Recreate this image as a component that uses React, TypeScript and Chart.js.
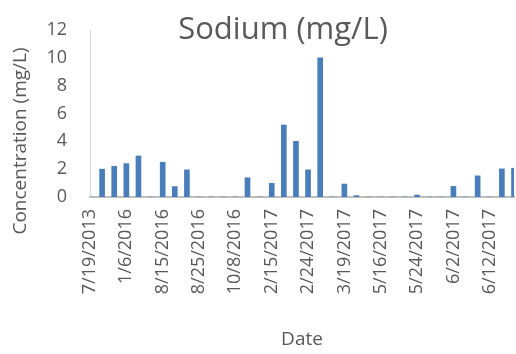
import React, { useEffect, useRef } from "react";
import { Chart, registerables } from "chart.js";

Chart.register(...registerables);

// Category labels (only every third date is printed on the axis in the source chart)
const dates: string[] = [
  "7/19/2013", "", "", "1/6/2016", "", "", "8/15/2016", "", "", "8/25/2016", "", "",
  "10/8/2016", "", "", "2/15/2017", "", "", "2/24/2017", "", "", "3/19/2017", "", "",
  "5/16/2017", "", "", "5/24/2017", "", "", "6/2/2017", "", "", "6/12/2017", "", "",
];

// Sodium concentration (mg/L)
const sodium: number[] = [
  0, 2.0, 2.2, 2.4, 2.95, 0, 2.5, 0.75, 1.95, 0, 0, 0,
  0, 1.38, 0, 0.98, 5.17, 4.0, 1.95, 10.0, 0, 0.93, 0.1, 0,
  0, 0, 0, 0.14, 0, 0, 0.76, 0, 1.52, 0, 2.02, 2.07,
];

const yTicks: number[] = [0, 2, 4, 6, 8, 10, 12];

const chartTitle = "Sodium (mg/L)";
const yTitle = "Concentration (mg/L)";
const xTitle = "Date";

const FONT = "'Open Sans', 'Liberation Sans', sans-serif";
const TEXT = "#595959";

const titlesPlugin = {
  id: "customTitles",
  afterDraw(chart: any) {
    const ctx = chart.ctx;
    ctx.save();
    ctx.fillStyle = TEXT;
    ctx.font = `31px ${FONT}`;
    ctx.textAlign = "center";
    ctx.textBaseline = "alphabetic";
    ctx.fillText(chartTitle, 283, 39);
    ctx.translate(21, 141);
    ctx.rotate(-Math.PI / 2);
    ctx.font = `19px ${FONT}`;
    ctx.textBaseline = "middle";
    ctx.fillText(yTitle, 0, 0);
    ctx.restore();
  },
};

export default function App() {
  const ref = useRef<HTMLCanvasElement | null>(null);

  useEffect(() => {
    document.body.style.margin = "0";
    if (!ref.current) return;
    const chart = new Chart(ref.current, {
      type: "bar",
      data: {
        labels: dates,
        datasets: [
          {
            label: chartTitle,
            data: sodium,
            backgroundColor: "#4A7EBB",
            barThickness: 5,
          },
        ],
      },
      options: {
        animation: false,
        responsive: false,
        maintainAspectRatio: false,
        layout: { padding: { top: 30, right: 0, left: 0, bottom: 0 } },
        plugins: {
          legend: { display: false },
          tooltip: { enabled: false },
          title: { display: false },
        },
        scales: {
          x: {
            offset: false,
            grid: { display: false, drawTicks: false },
            border: { display: true, color: "#BFBFBF", width: 2 },
            ticks: {
              autoSkip: false,
              minRotation: 90,
              maxRotation: 90,
              padding: 12,
              color: TEXT,
              font: { family: FONT, size: 18 },
            },
            title: {
              display: true,
              text: xTitle,
              color: TEXT,
              font: { family: FONT, size: 19 },
              padding: { top: 0, bottom: 3 },
            },
            afterFit(scale: any) {
              scale.height = 157;
              scale.paddingRight = 2;
              scale.paddingLeft = 0;
              scale.paddingTop = 0;
              scale.paddingBottom = 0;
            },
          },
          y: {
            min: 0,
            max: 12,
            afterBuildTicks(scale: any) {
              scale.ticks = yTicks.map((v) => ({ value: v }));
            },
            grid: { display: false, drawTicks: false },
            border: { display: true, color: "#D9D9D9", width: 1 },
            ticks: {
              padding: 23,
              color: TEXT,
              font: { family: FONT, size: 18 },
            },
            afterFit(scale: any) {
              scale.width = 90;
              scale.paddingTop = 0;
              scale.paddingBottom = 0;
            },
          },
        },
      },
      plugins: [titlesPlugin],
    });
    return () => chart.destroy();
  }, []);

  return <canvas ref={ref} width={516} height={354} style={{ display: "block" }} />;
}
